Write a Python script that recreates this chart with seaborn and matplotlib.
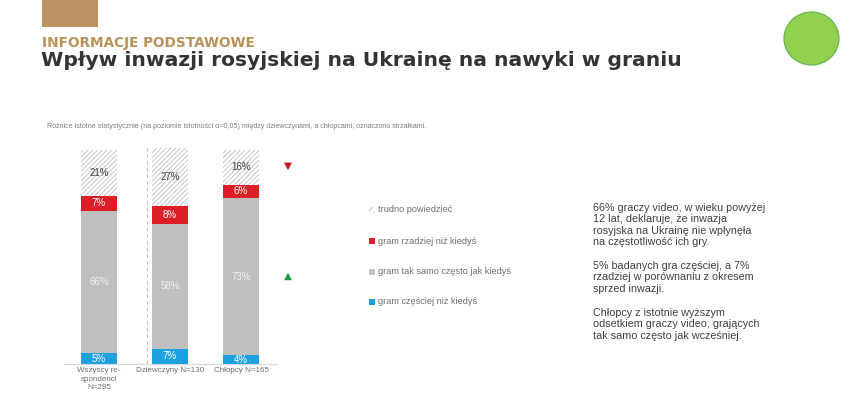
import matplotlib
matplotlib.use("Agg")
import matplotlib.pyplot as plt
from matplotlib.patches import Rectangle, Ellipse
import seaborn as sns
import pandas as pd

# ---- data ----
categories = ["Wszyscy re-\nspondenci\nN=295", "Dziewczyny N=130", "Chłopcy N=165"]
czesciej = [5, 7, 4]        # gram częściej niż kiedyś
tak_samo = [66, 58, 73]     # gram tak samo często jak kiedyś
rzadziej = [7, 8, 6]        # gram rzadziej niż kiedyś
trudno = [21, 27, 16]       # trudno powiedzieć
series_labels = ["gram częściej niż kiedyś", "gram tak samo często jak kiedyś",
                 "gram rzadziej niż kiedyś", "trudno powiedzieć"]
series_colors = ["#1CA0E0", "#BFBFBF", "#DC1F26", "white"]
label_colors = ["white", "#F2F2F2", "white", "#404040"]

title_small = "INFORMACJE PODSTAWOWE"
title_big = "Wpływ inwazji rosyjskiej na Ukrainę na nawyki w graniu"
footnote = ("Różnice istotne statystycznie (na poziomie istotności α=0,05) między "
            "dziewczynami, a chłopcami, oznaczono strzałkami.")
paragraphs = [
    "66% graczy video, w wieku powyżej\n12 lat, deklaruje, że inwazja\nrosyjska na Ukrainę nie wpłynęła\nna częstotliwość ich gry.",
    "5% badanych gra częściej, a 7%\nrzadziej w porównaniu z okresem\nsprzed inwazji.",
    "Chłopcy z istotnie wyższym\nodsetkiem graczy video, grających\ntak samo często jak wcześniej.",
]

sns.set_style("white")
plt.rcParams["font.family"] = ["Liberation Sans", "DejaVu Sans"]
plt.rcParams["hatch.linewidth"] = 0.6

W, H = 852, 416
fig = plt.figure(figsize=(W / 100, H / 100), dpi=100)

def fx(px):
    return px / W

def fy(py):
    return 1 - py / H

# header decorations
fig.patches.append(Rectangle((fx(42), fy(27)), fx(98) - fx(42), 27 / H,
                             transform=fig.transFigure, facecolor="#BC9463",
                             edgecolor="none"))
fig.patches.append(Ellipse((fx(811.5), fy(38.5)), 55 / W, 53 / H,
                           transform=fig.transFigure, facecolor="#92D050",
                           edgecolor="#5FB04A", linewidth=0.8))

fig.text(fx(42), fy(47.3), title_small, color="#B8925A", fontsize=9.8,
         fontweight="bold", va="baseline", ha="left", family=["DejaVu Sans"])
fig.text(fx(41), fy(66.5), title_big, color="#333333", fontsize=14.6,
         fontweight="bold", va="baseline", ha="left", family=["DejaVu Sans"])
fig.text(fx(47), fy(127), footnote, color="#7F7F7F", fontsize=5.15,
         va="center", ha="left")

# ---- bar chart ----
ax = fig.add_axes([fx(63.5), fy(364), (276.5 - 63.5) / W, 216 / H])
df = pd.DataFrame({"cat": categories, "czesciej": czesciej, "tak_samo": tak_samo,
                   "rzadziej": rzadziej, "trudno": trudno})
cols = ["czesciej", "tak_samo", "rzadziej", "trudno"]
bottom = [0, 0, 0]
for i, col in enumerate(cols):
    kw = dict(x="cat", y=col, data=df, ax=ax, width=0.52, errorbar=None,
              bottom=list(bottom), linewidth=0)
    if col == "trudno":
        kw.update(color="white", hatch="///////", edgecolor="#BFBFBF")
    else:
        kw.update(color=series_colors[i])
    sns.barplot(**kw)
    cont = ax.containers[-1]
    for p in cont.patches:
        p.set_facecolor(series_colors[i])
        if col == "trudno":
            p.set_edgecolor("#BDBDBD")
            p.set_linewidth(0)
    ax.bar_label(cont, labels=[f"{v}%" for v in df[col]], label_type="center",
                 color=label_colors[i], fontsize=7)
    bottom = [b + v for b, v in zip(bottom, df[col])]

ax.set_xlim(-0.5, 2.5)
ax.set_ylim(0, 100)
ax.axvline(0.68, ymin=0, ymax=1, color="#BFBFBF", linestyle=(0, (3, 3)), linewidth=0.8)
for s in ["top", "right", "left"]:
    ax.spines[s].set_visible(False)
ax.spines["bottom"].set_color("#D9D9D9")
ax.spines["bottom"].set_linewidth(0.8)
ax.set_yticks([])
ax.set_xlabel("")
ax.set_ylabel("")
ax.tick_params(axis="x", length=0, pad=2.5, labelsize=5.8, labelcolor="#6E6E6E")
for t in ax.get_xticklabels():
    t.set_linespacing(1.3)

# significance arrows
fig.text(fx(288), fy(166), "▼", color="#C0191F", fontsize=7.5, ha="center", va="center",
         family=["DejaVu Sans"])
fig.text(fx(288), fy(276), "▲", color="#1E9E4A", fontsize=7.5, ha="center", va="center",
         family=["DejaVu Sans"])

# legend (top to bottom: trudno, rzadziej, tak samo, częściej)
leg_y = [210, 241, 272, 302]
for k, idx in enumerate([3, 2, 1, 0]):
    y = leg_y[k]
    if idx == 3:
        fig.patches.append(Rectangle((fx(369), fy(y + 3)), 6 / W, 6 / H,
                                     transform=fig.transFigure, facecolor="white",
                                     edgecolor="#BFBFBF", hatch="/////", linewidth=0))
    else:
        fig.patches.append(Rectangle((fx(369), fy(y + 3)), 6 / W, 6 / H,
                                     transform=fig.transFigure,
                                     facecolor=series_colors[idx], edgecolor="none"))
    fig.text(fx(377.5), fy(y), series_labels[idx], color="#6E6E6E", fontsize=6.6,
             va="center", ha="left")

# right text
para_y = [203, 261, 308]
for y, p in zip(para_y, paragraphs):
    fig.text(fx(593), fy(y), p, color="#404040", fontsize=7.75, va="top", ha="left",
             linespacing=1.17)

fig.savefig("out.png", dpi=100)
